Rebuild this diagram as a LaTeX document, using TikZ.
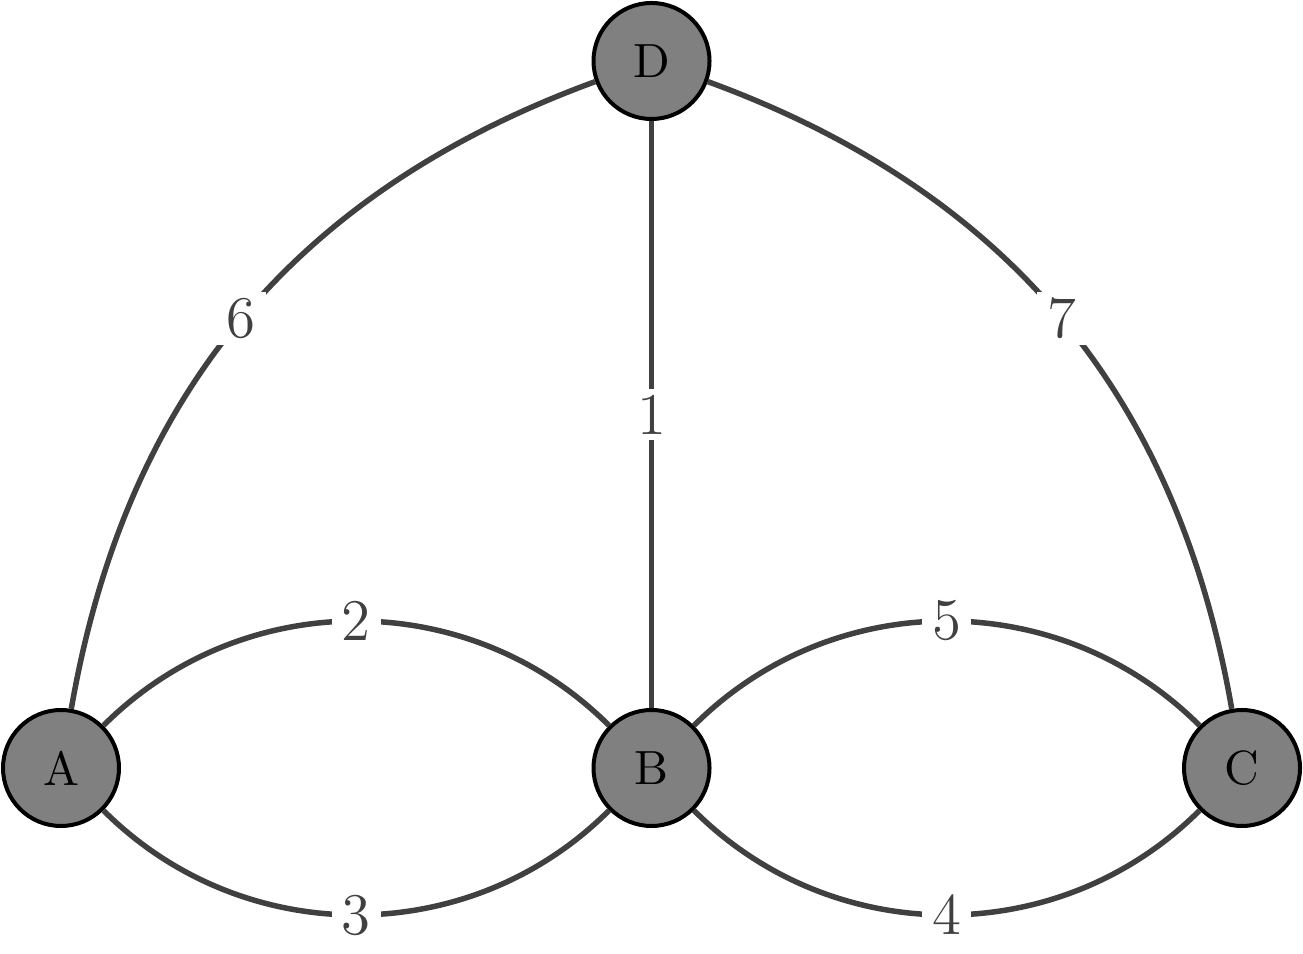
\documentclass[tikz,border=0pt]{standalone}
\definecolor{edgegray}{HTML}{404040}
\definecolor{nodegray}{HTML}{808080}
\begin{document}
\begin{tikzpicture}[x=0.2pt,y=-0.2pt,
  vert/.style={circle, draw=black, line width=0.8pt, fill=nodegray,
    minimum size=23.2pt, inner sep=0pt, font=\fontsize{9.6}{11}\selectfont},
  edge/.style={draw=edgegray, line width=1.1pt},
  lab/.style={fill=white, text=edgegray, inner xsep=2pt, inner ysep=1.2pt,
    font=\fontsize{11.8}{14}\selectfont}]
\useasboundingbox (0,0) rectangle (1303,954);
\node[vert] (A) at (61,768) {A};
\node[vert] (B) at (651.5,768) {B};
\node[vert] (C) at (1242,768) {C};
\node[vert] (D) at (651.5,61) {D};
\draw[edge] (A) to[bend left=45] node[lab]{2} (B);
\draw[edge] (A) to[bend right=45] node[lab]{3} (B);
\draw[edge] (B) to[bend left=45] node[lab]{5} (C);
\draw[edge] (B) to[bend right=45] node[lab]{4} (C);
\draw[edge] (A) to[bend left=30] node[lab]{6} (D);
\draw[edge] (D) to[bend left=30] node[lab]{7} (C);
\draw[edge] (D) -- node[lab]{1} (B);
\end{tikzpicture}
\end{document}
